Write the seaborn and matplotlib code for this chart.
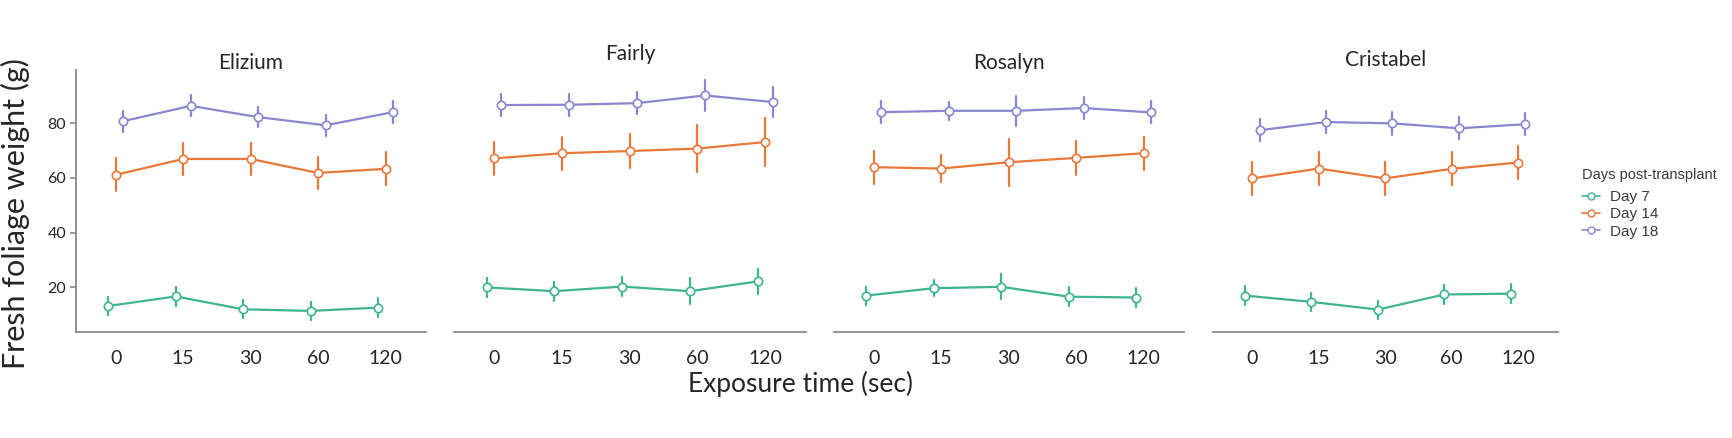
import matplotlib
matplotlib.use("Agg")
import matplotlib.pyplot as plt
from matplotlib.lines import Line2D
import pandas as pd
import seaborn as sns

# --- data ---
cultivars = ["Elizium", "Fairly", "Rosalyn", "Cristabel"]
times = ["0", "15", "30", "60", "120"]
days = ["Day 7", "Day 14", "Day 18"]

# mean fresh weight (g), one list per cultivar, in the order of `times`
elizium_d7 = [13.2, 16.7, 12.0, 11.4, 12.6]
elizium_d14 = [61.1, 66.9, 66.9, 61.8, 63.3]
elizium_d18 = [80.7, 86.3, 82.2, 79.2, 84.0]
fairly_d7 = [20.0, 18.6, 20.3, 18.6, 22.2]
fairly_d14 = [67.1, 69.0, 69.8, 70.7, 73.1]
fairly_d18 = [86.6, 86.7, 87.3, 90.1, 87.7]
rosalyn_d7 = [17.0, 19.7, 20.2, 16.6, 16.3]
rosalyn_d14 = [63.9, 63.4, 65.7, 67.3, 69.0]
rosalyn_d18 = [84.0, 84.5, 84.5, 85.5, 83.9]
cristabel_d7 = [17.0, 14.7, 11.9, 17.4, 17.7]
cristabel_d14 = [59.8, 63.4, 59.8, 63.3, 65.6]
cristabel_d18 = [77.4, 80.4, 79.9, 78.1, 79.6]

# half-length of the error bars (g)
elizium_d7_err = [3.4, 3.5, 3.3, 3.3, 3.4]
elizium_d14_err = [6.0, 6.0, 6.0, 6.0, 6.0]
elizium_d18_err = [3.9, 3.8, 3.8, 3.8, 3.9]
fairly_d7_err = [3.5, 3.4, 3.4, 4.7, 4.6]
fairly_d14_err = [6.1, 6.1, 6.1, 8.5, 8.6]
fairly_d18_err = [4.0, 4.0, 4.0, 5.5, 5.5]
rosalyn_d7_err = [3.3, 2.9, 4.6, 3.4, 3.4]
rosalyn_d14_err = [6.0, 4.9, 8.5, 6.1, 6.0]
rosalyn_d18_err = [4.0, 3.3, 5.5, 4.0, 4.0]
cristabel_d7_err = [3.4, 3.3, 3.3, 3.4, 3.4]
cristabel_d14_err = [6.0, 6.0, 6.0, 6.0, 6.0]
cristabel_d18_err = [4.0, 4.0, 4.1, 4.0, 4.0]

colors = ["#3FB58B", "#E8793A", "#8B86CF"]

series = {
    ("Elizium", "Day 7"): (elizium_d7, elizium_d7_err),
    ("Elizium", "Day 14"): (elizium_d14, elizium_d14_err),
    ("Elizium", "Day 18"): (elizium_d18, elizium_d18_err),
    ("Fairly", "Day 7"): (fairly_d7, fairly_d7_err),
    ("Fairly", "Day 14"): (fairly_d14, fairly_d14_err),
    ("Fairly", "Day 18"): (fairly_d18, fairly_d18_err),
    ("Rosalyn", "Day 7"): (rosalyn_d7, rosalyn_d7_err),
    ("Rosalyn", "Day 14"): (rosalyn_d14, rosalyn_d14_err),
    ("Rosalyn", "Day 18"): (rosalyn_d18, rosalyn_d18_err),
    ("Cristabel", "Day 7"): (cristabel_d7, cristabel_d7_err),
    ("Cristabel", "Day 14"): (cristabel_d14, cristabel_d14_err),
    ("Cristabel", "Day 18"): (cristabel_d18, cristabel_d18_err),
}

# long table: each group gets its lower and upper bar end, so the mean is the
# plotted point and the min/max are the error bar ends
rows = []
for (cult, day), (means, errs) in series.items():
    for t, m, e in zip(times, means, errs):
        rows.append({"cultivar": cult, "time": t, "day": day, "weight": m - e})
        rows.append({"cultivar": cult, "time": t, "day": day, "weight": m + e})
df = pd.DataFrame(rows)


def bar_range(v):
    return v.min(), v.max()


def main():
    sns.set_style("white")
    plt.rcParams["font.family"] = ["Lato", "DejaVu Sans"]

    W, H = 1732, 438
    fig = plt.figure(figsize=(W / 100, H / 100), dpi=100)

    # panel rectangles in pixels: left, right
    panel_px = [(76, 426), (454, 806), (834, 1184), (1213, 1558)]
    top_px, bottom_px = 70, 332
    title_pads = [1, 7, 1, 3]

    for i, cult in enumerate(cultivars):
        l, r = panel_px[i]
        ax = fig.add_axes([l / W, 1 - bottom_px / H, (r - l) / W, (bottom_px - top_px) / H])
        sub = df[df["cultivar"] == cult]
        sns.pointplot(
            data=sub, x="time", y="weight", hue="day",
            order=times, hue_order=days, palette=colors,
            estimator="mean", errorbar=bar_range, dodge=0.22,
            markers="o", markersize=6, markerfacecolor="white",
            markeredgewidth=1.2, linewidth=1.6,
            err_kws={"linewidth": 1.6}, capsize=0,
            legend=False, ax=ax,
        )
        # white-filled markers sit on top of their error bars
        for ln in ax.lines:
            if ln.get_marker() not in (None, "None", ""):
                ln.set_zorder(5)
        ax.set_xlim(-0.59, 4.6)
        ax.set_ylim(3.7, 99.4)
        ax.set_xlabel("")
        ax.set_ylabel("")
        ax.set_title(cult, fontsize=15, pad=title_pads[i])
        for s in ["top", "right"]:
            ax.spines[s].set_visible(False)
        ax.spines["bottom"].set_color("#8a8a8a")
        ax.spines["bottom"].set_linewidth(1.3)
        ax.tick_params(axis="x", length=4, width=1.2, color="#8a8a8a",
                       labelsize=14, pad=9, direction="out")
        if i == 0:
            ax.spines["left"].set_color("#8a8a8a")
            ax.spines["left"].set_linewidth(1.3)
            ax.set_yticks([20, 40, 60, 80])
            ax.tick_params(axis="y", length=4, width=1.2, color="#8a8a8a",
                           labelsize=11.5, pad=3, direction="out", left=True)
        else:
            ax.spines["left"].set_visible(False)
            ax.set_yticks([])

    fig.text(15 / W, 1 - 214 / H, "Fresh foliage weight (g)", rotation=90,
             ha="center", va="center", fontsize=22)
    fig.text(801 / W, 1 - 384 / H, "Exposure time (sec)",
             ha="center", va="center", fontsize=19)

    handles = [
        Line2D([0], [0], color=c, marker="o", markerfacecolor="white",
               markersize=5, linewidth=1.2, markeredgewidth=1.0)
        for c in colors
    ]
    leg = fig.legend(handles, days, title="Days post-transplant",
                     loc="upper left", bbox_to_anchor=(1576 / W, 1 - 162 / H),
                     frameon=False, fontsize=11, title_fontsize=10.5,
                     handlelength=1.2, handletextpad=0.6, labelspacing=0.2,
                     alignment="left", borderaxespad=0)
    leg._legend_box.sep = 6
    for t in leg.get_texts():
        t.set_color("#3a3a3a")
        t.set_family(["Liberation Sans", "DejaVu Sans"])
    leg.get_title().set_color("#3a3a3a")
    leg.get_title().set_family(["Liberation Sans", "DejaVu Sans"])

    fig.savefig("out.png", dpi=100)
    plt.close(fig)


if __name__ == "__main__":
    main()
